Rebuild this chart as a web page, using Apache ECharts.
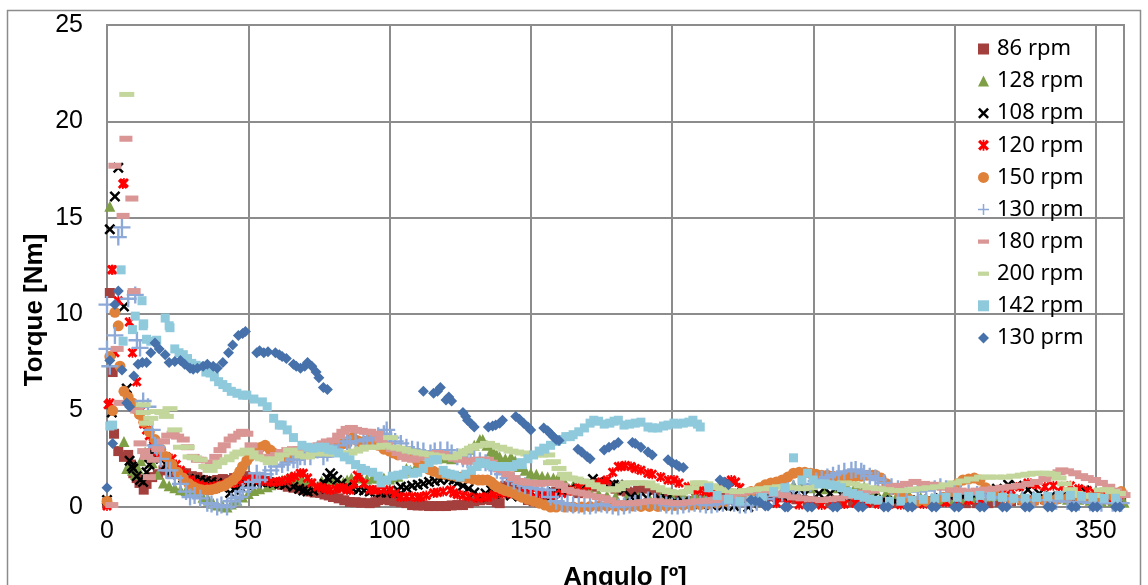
<!DOCTYPE html>
<html>
<head>
<meta charset="utf-8">
<script src="https://cdn.jsdelivr.net/npm/echarts@6/dist/echarts.min.js"></script>
<style>
  html, body { margin: 0; padding: 0; background: #ffffff; }
  #chart { width: 1148px; height: 585px; }
</style>
</head>
<body>
<div id="chart"></div>
<script>
// Torque vs crank angle, one scatter series per speed.
const seriesNames = ['86 rpm', '128 rpm', '108 rpm', '120 rpm', '150 rpm', '130 rpm', '180 rpm', '200 rpm', '142 rpm', '130 prm'];

// [angle (deg), torque (Nm)]
const s86 = [[0,0.2],[1,11.1],[2,7.0],[2.5,3.8],[4,2.9],[6,2.6],[7.5,2.7],[8.5,2.2],[9.3,1.75],[10.5,1.5],[11.5,1.25],[12.4,1.4],[13,0.9],[14,1.2],[16,1.55],[18,1.7],[20,1.9],[21.5,2.1],[23,1.8],[25,1.75],[26.6,1.75],[28,1.75],[30,1.6],[32,1.55],[34,1.4],[35.5,1.3],[37,1.35],[39,1.4],[41,1.45],[43.6,1.4],[45,1.5],[47,1.55],[49,1.6],[50.7,1.55],[52,1.5],[54,1.4],[56,1.35],[58,1.25],[60,1.2],[62,1.15],[64,1.05],[66,1.0],[68,0.95],[70,0.88],[72,0.8],[73.5,0.75],[75.5,0.73],[77,0.65],[78.5,0.6],[80,0.52],[82,0.45],[84,0.35],[86,0.26],[88,0.25],[90,0.22],[93,0.2],[95,0.25],[96,0.36],[98,0.4],[100,0.35],[102,0.3],[104,0.25],[106,0.2],[108,0.1],[110,0.08],[112,0.08],[114,0.05],[116,0.05],[118,0.05],[120,0.05],[122,0.08],[124,0.1],[126,0.1],[128,0.2],[130,0.3],[132,0.35],[134,0.4],[136,0.36],[138,0.25],[139,0.2],[141,1.1],[143,1.25],[144.5,1.1],[146,1.2],[147.5,0.8],[149,0.36],[151,0.3],[153,0.25],[155,0.3],[157,0.5],[159,0.8],[160.6,1.05],[162,0.95],[164,0.85],[166.7,0.72],[168,0.8],[170,0.9],[172.3,1.05],[174,1.15],[176,1.25],[178,1.1],[180,0.95],[182,0.85],[184,0.8],[186,0.75],[188,0.85],[190,0.95],[191.5,1.05],[193,0.9],[195,0.72],[197,0.6],[199,0.5],[201,0.4],[203,0.36],[205,0.3],[207,0.3],[209,0.35],[211,0.4],[213,0.45],[215,0.5],[217,0.6],[219,0.68],[220,0.72],[222,0.52],[225,0.5],[228,0.6],[232,0.7],[236,0.55],[240,0.5],[244,0.4],[248,0.3],[252,0.25],[256,0.2],[260,0.2],[264,0.25],[268,0.3],[272,0.3],[276,0.25],[280,0.2],[284,0.2],[288,0.25],[292,0.3],[296,0.3],[300,0.25],[304,0.2],[308,0.2],[312,0.2],[316,0.25],[320,0.3],[324,0.35],[328,0.35],[332,0.4],[336,0.45],[340,0.5],[344,0.5],[348,0.45],[352,0.4],[356,0.35],[359,0.3]];

const s128 = [[1,15.6],[6,3.4],[7,2.0],[8,2.2],[9,1.9],[10,1.7],[11,2.0],[12,2.4],[13.5,2.85],[14.5,2.6],[16,2.3],[18,1.7],[20,1.25],[22,1.1],[24,1.0],[26,0.9],[28,0.85],[30,0.8],[32,0.7],[34,0.5],[36,0.35],[37.6,0.2],[39,0.1],[41,0.05],[42.5,0.0],[44,0.15],[46,0.35],[48,0.52],[50,0.7],[52,0.85],[54,0.95],[56.7,1.05],[58,1.15],[60,1.3],[62,1.4],[64,1.5],[65,1.55],[67,1.5],[69,1.45],[71,1.4],[73,1.2],[74.5,1.05],[76,1.35],[78,1.4],[80,1.35],[82,1.3],[83.7,1.3],[85,1.4],[86.5,1.5],[88.6,1.55],[90,1.5],[92,1.45],[94,1.5],[96,1.5],[98,1.5],[100,1.45],[101.5,1.55],[103,1.6],[105,1.8],[106,2.0],[107.4,1.9],[109,2.0],[111,2.2],[113.5,2.45],[115,2.5],[117,2.55],[119,2.55],[120.5,2.6],[122,2.5],[124,2.6],[126,2.8],[128,3.0],[130,3.2],[132,3.5],[133,3.5],[134.5,3.2],[136,2.9],[137,2.8],[138,2.7],[139,2.6],[141,2.5],[143,2.6],[144.5,2.4],[146,2.1],[148,1.9],[150,1.75],[152,1.7],[154,1.6],[156,1.55],[158,1.5],[159.6,1.5],[162,1.3],[165,1.1],[168,0.9],[171,0.8],[174,0.7],[177,0.6],[180,0.55],[184,0.5],[188,0.5],[192,0.45],[196,0.5],[200,0.55],[204,0.6],[208,0.65],[212,0.6],[216,0.55],[220,0.6],[224,0.7],[228,0.8],[232,0.9],[236,1.0],[240,1.1],[243,1.15],[246,1.1],[250,1.0],[254,0.95],[258,1.0],[262,1.05],[265,1.1],[268,1.05],[272,0.9],[276,0.8],[280,0.7],[284,0.6],[288,0.5],[292,0.45],[296,0.4],[300,0.4],[304,0.45],[308,0.5],[312,0.55],[316,0.6],[320,0.6],[324,0.6],[328,0.55],[332,0.5],[336,0.45],[340,0.4],[344,0.4],[348,0.35],[352,0.3],[356,0.3],[360,0.25]];

const s108 = [[0,0.36],[1,14.4],[1.7,4.9],[2.8,16.1],[4,17.6],[6,10.4],[7,6.15],[8,2.4],[8.8,2.1],[9.3,2.0],[10.5,1.6],[11.7,1.4],[12.8,1.3],[14,1.8],[15,2.2],[16,2.8],[16.4,3.4],[17.5,3.1],[19,2.5],[21,2.2],[23,1.9],[25,1.7],[27,1.5],[29,1.45],[31,1.4],[33,1.4],[35,1.35],[37,1.3],[39,1.25],[41,1.0],[43.6,0.72],[45,0.9],[47,1.05],[49.6,1.15],[51,1.2],[53,1.25],[55,1.3],[57,1.3],[59,1.25],[61,1.2],[63,1.15],[66,1.05],[68,0.95],[69.5,0.85],[71,0.8],[73,0.85],[75,0.95],[77,1.2],[78,1.5],[79,1.75],[80,1.6],[81.5,1.4],[83,1.2],[85,1.05],[87,0.95],[89,0.9],[91,0.85],[93,0.8],[95,0.8],[97,0.75],[99,0.75],[101.5,0.72],[103,0.85],[104,1.05],[106,1.0],[108,1.1],[110,1.15],[112,1.2],[114,1.3],[116,1.35],[118,1.4],[119,1.55],[121,1.45],[122.7,1.4],[124,1.25],[126,1.1],[128,0.95],[130,0.75],[132,0.52],[134,0.7],[136,0.88],[138,0.8],[140,0.7],[143,0.6],[146,0.55],[149,0.5],[152,0.5],[155,0.6],[158,0.75],[161,0.85],[164,0.95],[167,1.05],[170,1.2],[172,1.45],[174,1.3],[176,1.2],[179.4,1.15],[181,1.15],[183,0.9],[185.5,0.52],[188,0.5],[191,0.48],[195.4,0.47],[198,0.4],[201,0.3],[204,0.25],[206.7,0.2],[210,0.15],[214,0.1],[218,0.08],[222,0.05],[227,0.0],[231,0.2],[235,0.45],[239,0.55],[243,0.6],[247,0.65],[252,0.7],[256,0.7],[260,0.65],[264,0.6],[267,0.55],[271,0.45],[275,0.35],[279,0.3],[283,0.3],[287,0.35],[291,0.4],[295,0.45],[299,0.5],[303,0.55],[307,0.6],[311,0.75],[315,0.95],[319,1.15],[322,1.1],[326,0.9],[330,0.7],[334,0.55],[338,0.5],[342,0.45],[346,0.85],[350,0.5],[354,0.45],[358,0.4]];

const s120 = [[0,0.05],[0.4,5.3],[1,5.4],[1.7,12.3],[2,12.3],[2.8,8.0],[4,10.7],[5.6,16.75],[6,16.8],[7.9,9.6],[9,8.0],[10.5,6.5],[12,5.0],[13,4.3],[14,4.0],[15,3.7],[16.5,3.2],[17.6,2.85],[19,2.75],[21,2.6],[23,2.5],[24.5,2.2],[26,1.9],[27.5,1.7],[29.4,1.4],[31,1.25],[32.5,1.15],[34,1.05],[35.5,1.05],[37.6,1.05],[39,1.1],[41,1.15],[43,1.2],[45,1.25],[47,1.35],[49,1.4],[51.8,1.5],[54,1.4],[56,1.35],[58,1.3],[60,1.3],[62,1.35],[64,1.4],[65,1.5],[66.5,1.6],[68.4,1.75],[69.5,1.75],[71,1.5],[72.5,1.25],[74.5,1.05],[76,1.0],[77.5,0.95],[79,0.88],[81,0.95],[82.5,1.0],[83.7,1.0],[85,0.9],[86,0.88],[87.5,1.2],[88.6,1.65],[89.5,1.6],[91,1.2],[93,0.9],[94.3,0.88],[96,0.9],[98,0.9],[100,0.85],[102,0.7],[104,0.52],[106,0.55],[108,0.55],[110,0.5],[111,0.52],[113,0.6],[115.6,0.72],[117,0.75],[119,0.8],[121.6,0.88],[122.7,0.72],[124,0.65],[126,0.6],[128,0.55],[131,0.47],[133,0.5],[134.8,0.52],[137,0.65],[139,0.72],[141,0.7],[143,0.7],[145,0.7],[147,0.72],[150,0.72],[152.5,0.72],[155,0.65],[158,0.6],[161,0.7],[164,0.85],[167,1.0],[170,1.1],[173,1.2],[175,1.3],[177,1.4],[179,1.8],[181,2.1],[182,2.1],[183.5,2.15],[185.5,2.1],[187,2.0],[189,1.9],[191.5,1.75],[193,1.7],[196,1.55],[198.6,1.4],[200.7,1.4],[202.5,1.25],[205.7,1.05],[208,0.88],[210,0.88],[212,0.8],[214,0.75],[216,0.8],[218,1.0],[220,1.3],[221,1.4],[222.5,1.3],[224,1.0],[226,0.7],[228,0.5],[230,0.35],[233,0.25],[237,0.2],[241,0.15],[245,0.12],[249,0.1],[253,0.1],[257,0.12],[261,0.15],[265,0.2],[269,0.2],[273,0.15],[277,0.15],[281,0.12],[285,0.12],[289,0.15],[293,0.2],[297,0.25],[301,0.3],[305,0.35],[309,0.4],[313,0.55],[317,0.7],[320,0.9],[323,1.05],[326,1.25],[329,1.15],[332,1.05],[335,1.1],[338,1.05],[341,1.1],[344,0.95],[347,0.85],[349.6,0.72],[352,0.6],[355,0.4],[358,0.3]];

const s150 = [[0,0.3],[1,7.8],[2,5.0],[2.8,10.1],[4,9.4],[4.6,7.3],[6,6.0],[7.5,5.7],[9,5.4],[10,5.1],[11.5,4.8],[13,4.4],[15,3.9],[17,3.5],[19,3.0],[21,2.6],[23,2.2],[25,1.8],[27,1.5],[29,1.2],[30.5,1.05],[32,0.95],[33.5,0.9],[35.5,0.88],[37,0.9],[38.5,0.95],[40,1.05],[41.5,1.1],[43,1.25],[44.7,1.4],[46,1.6],[47,1.85],[48,2.1],[49.5,2.4],[50.5,2.6],[51.8,2.8],[53,2.95],[54.5,3.1],[56,3.2],[57.8,2.95],[59,2.8],[61,2.7],[62.4,2.6],[64,2.6],[65,2.6],[67,2.65],[69,2.7],[71,2.75],[73,2.8],[75,2.9],[77,3.0],[79,3.1],[81,3.2],[83,3.25],[85,3.3],[87,3.6],[88.5,3.45],[89.7,3.37],[91,3.4],[92.5,3.45],[94.3,3.45],[96,3.2],[98,3.0],[100,2.9],[101.5,2.8],[103,2.7],[104.5,2.75],[106,2.8],[108,2.6],[110,2.35],[112,2.1],[114,1.95],[115.6,1.85],[117.5,1.75],[119.5,1.7],[121.6,1.65],[123.5,1.6],[125.5,1.55],[127.5,1.5],[129.5,1.45],[131.5,1.4],[133,1.4],[134.7,1.4],[136,1.3],[137,1.15],[138,1.05],[139.5,0.95],[141,0.85],[142.5,0.8],[144,0.72],[145.5,0.6],[147,0.5],[149,0.4],[151,0.3],[153,0.2],[155,0.1],[157,0.0],[159,0.0],[162,0.0],[165,0.0],[168,0.0],[171,0.02],[174,0.05],[177,0.05],[180,0.05],[183,0.05],[186,0.05],[189,0.03],[192,0.03],[195,0.03],[198,0.05],[201,0.08],[204,0.1],[207,0.1],[210,0.12],[213,0.15],[216,0.2],[219,0.3],[222,0.45],[225,0.6],[228,0.8],[231,1.0],[233,1.15],[235,1.25],[237,1.3],[239,1.4],[241,1.55],[243,1.75],[245,1.8],[247,1.8],[249,1.75],[251,1.7],[253,1.65],[255,1.65],[257,1.6],[259,1.55],[261,1.55],[263,1.55],[265,1.6],[267,1.6],[269,1.65],[271,1.65],[272,1.65],[274,1.5],[276,1.2],[278,0.9],[281,0.6],[284,0.4],[287,0.3],[290,0.3],[293,0.35],[296,0.5],[299,0.8],[301,1.2],[303,1.4],[305,1.45],[307,1.5],[309,1.4],[311,1.0],[314,0.7],[317,0.5],[320,0.4],[324,0.35],[328,0.3],[332,0.35],[336,0.4],[340,0.45],[344,0.5],[348,0.5],[352,0.45],[356,0.6],[359,0.8]];

const s130 = [[0,8.2],[0,10.5],[1,7.3],[2.8,8.9],[4,14.0],[5.3,14.5],[7.5,10.8],[10,11.0],[10.6,8.65],[11.7,8.25],[12.8,5.5],[14.5,5.2],[16,4.0],[17,3.2],[17.6,3.1],[19,2.5],[21,1.9],[22.3,1.9],[24,1.5],[26,1.2],[28,0.8],[29.4,0.52],[31,0.6],[33,0.45],[35.5,0.2],[37,0.15],[39,0.0],[40.5,0.1],[42.5,0.0],[44,0.3],[45.5,0.45],[47,0.52],[48,0.8],[50,1.0],[51.5,1.3],[53,1.75],[54,1.4],[56,1.7],[58,1.9],[60,2.1],[62,2.2],[64,2.3],[66,2.45],[67.4,2.45],[68.4,2.6],[70,2.6],[72,2.6],[74.5,2.95],[76.6,2.6],[78,2.8],[80,3.0],[82,3.2],[83.7,3.6],[85,3.4],[86,3.3],[88,3.4],[90.8,3.45],[92,3.5],[94,3.6],[96,3.7],[98,3.8],[99,4.0],[100.5,3.6],[102,3.4],[104,3.3],[106,3.1],[108,3.0],[110,2.95],[112,2.9],[114.5,2.8],[116,2.9],[118,2.95],[120.5,2.95],[122,2.8],[124,2.6],[126,2.5],[127.6,2.45],[128.7,2.45],[130,2.5],[132,2.4],[134,2.3],[136,2.1],[138,1.9],[140,1.7],[142,1.5],[144,1.35],[146,1.2],[148,1.1],[150,1.0],[152,0.95],[154,0.9],[156,0.88],[157,0.52],[159,0.3],[161,0.2],[163,0.15],[165,0.1],[167,0.1],[169,0.05],[171,0.05],[173,0.1],[175,0.15],[177,0.1],[179,0.05],[181,0.0],[183,0.05],[185,0.1],[187,0.2],[189,0.3],[191.5,0.36],[194,0.3],[196,0.2],[198,0.1],[200,0.05],[202,0.05],[204,0.1],[206,0.15],[208,0.2],[210,0.15],[212,0.1],[214,0.1],[216,0.15],[218,0.2],[220,0.25],[222,0.2],[224,0.1],[226,0.1],[228,0.15],[230,0.25],[233,0.4],[236,0.55],[239,0.72],[241,0.85],[243,0.95],[245,1.0],[247,1.05],[249,1.2],[251,1.35],[253,1.45],[255,1.55],[257,1.65],[259,1.75],[261,1.85],[263.5,1.9],[265,1.95],[267,1.85],[268,1.75],[270,1.6],[272,1.5],[273,1.4],[275,1.25],[277.7,1.05],[280,0.95],[283,0.9],[287,0.8],[290,0.85],[293,0.95],[295,1.05],[297,0.95],[300,0.85],[302,0.8],[305,0.72],[308,0.65],[311,0.6],[314,0.52],[317,0.45],[320,0.4],[324,0.38],[328,0.36],[332,0.36],[336,0.3],[340,0.28],[344,0.25],[348,0.22],[352,0.2],[356,0.2],[359,0.2]];

const s180 = [[1.7,0.1],[2.8,17.7],[3.6,8.2],[4.6,5.4],[5.7,15.1],[6.7,19.1],[8.8,16.0],[9.6,11.2],[10.5,5.0],[11.7,3.3],[13,2.9],[14,2.6],[15,1.55],[16.4,2.45],[18,3.0],[20,3.4],[21.5,3.7],[23.4,3.8],[25,3.65],[27,3.5],[28.5,3.1],[30.5,2.6],[32,2.45],[33,2.45],[35.5,2.1],[37,2.3],[38.5,2.6],[40,2.95],[41.5,3.2],[43.6,3.5],[45,3.65],[47,3.8],[48,3.9],[49.5,3.8],[51,3.2],[53,2.8],[55,2.6],[57.8,2.6],[60,2.7],[62,2.85],[64,2.95],[66,3.0],[68,3.0],[70,3.05],[73,3.1],[75,3.2],[76.6,3.3],[78,3.4],[80,3.45],[82,3.7],[83.5,3.9],[85,4.05],[86.5,4.1],[88,4.0],[90,3.95],[91.5,3.9],[93,3.9],[95.7,3.8],[97,3.5],[99,3.2],[101,3.0],[103,2.8],[105,2.6],[106.5,2.5],[108.5,2.45],[110,2.55],[112,2.6],[114,2.7],[115.5,2.75],[117,2.8],[119,2.75],[121,2.6],[123,2.5],[125,2.45],[127.6,2.35],[129,2.4],[131,2.45],[133,2.45],[134.7,2.45],[136,2.3],[137.5,2.1],[139,1.95],[140.4,1.9],[142,1.7],[144,1.5],[146,1.35],[147.5,1.3],[149,1.25],[151,1.25],[153,1.2],[155,1.25],[157,1.25],[158,1.25],[159.6,1.25],[161,1.1],[163,0.88],[165,0.8],[167,0.75],[169,0.7],[171,0.6],[174,0.52],[176,0.45],[178,0.35],[181,0.2],[184,0.2],[186.5,0.2],[189,0.25],[192,0.3],[195,0.3],[198,0.25],[201,0.2],[203,0.2],[206,0.25],[209,0.3],[212,0.32],[215,0.36],[218,0.45],[221,0.6],[224.5,0.72],[227,0.8],[229,0.85],[231.6,0.88],[234,0.8],[237,0.7],[240,0.6],[243,0.5],[246,0.45],[249,0.4],[253,0.36],[256,0.4],[259,0.45],[262,0.55],[265,0.65],[268,0.75],[271,0.85],[274,0.95],[277.7,1.05],[280,1.1],[283,1.2],[286,1.3],[289,1.2],[291,1.15],[293,1.15],[296,1.0],[299,0.9],[302,0.85],[305,0.8],[308,0.85],[311,0.9],[314,0.95],[317,1.0],[320,1.05],[323,1.1],[326,1.2],[329,1.3],[332,1.45],[335,1.6],[337,1.8],[338,1.9],[340,1.85],[342.6,1.75],[345,1.6],[347,1.5],[349.6,1.4],[352,1.25],[354.6,1.05],[357,0.85],[359,0.7],[360,0.62]];

const s200 = [[7,21.4],[12.8,5.3],[12.8,4.9],[14,4.35],[15.5,4.6],[17.6,4.95],[19.5,4.9],[21,4.7],[22.3,5.1],[24,4.0],[26,3.1],[28.4,3.1],[29.4,2.6],[31,2.55],[33,2.45],[35,2.1],[36.5,1.9],[38,2.1],[40,2.3],[42.5,2.45],[44,2.6],[46,2.75],[47,2.85],[49.6,2.95],[51,2.8],[53,2.6],[55,2.5],[56.7,2.45],[57.8,2.3],[60,2.5],[62,2.7],[65,2.95],[67,2.8],[69,2.65],[71,2.6],[73,2.75],[74.5,2.85],[76,2.8],[78,2.75],[80,2.75],[82,2.8],[83.7,2.8],[86,2.8],[88,2.9],[90,3.0],[92,3.1],[94,3.1],[96,3.1],[98,3.2],[100.4,3.6],[101.5,3.1],[103,3.05],[105,3.0],[107,2.9],[109,2.85],[111,2.8],[113,2.75],[115,2.7],[117,2.65],[119,2.6],[121.6,2.55],[123,2.6],[125,2.75],[127,2.9],[129,3.05],[130.5,3.15],[132,3.2],[134.7,3.3],[136.5,3.2],[139,3.1],[141,3.0],[143,2.9],[145,2.85],[147,2.8],[149,2.75],[151,2.7],[153.5,2.7],[156,2.7],[157,2.3],[158,2.35],[160,2.0],[162,1.7],[163,1.5],[164,1.5],[166,1.45],[168,1.35],[170,1.3],[172,1.15],[174,1.05],[176,0.95],[177.5,0.9],[179.4,0.88],[181,0.95],[182.5,1.1],[184,1.25],[186,1.25],[188,1.25],[189,1.25],[191.5,1.25],[193,1.1],[195,1.0],[197,0.88],[199,0.8],[201,0.75],[203,0.72],[205,0.8],[207,1.0],[209,1.25],[210,1.25],[212,1.2],[214,1.1],[216,1.0],[218,0.9],[220,0.85],[223,0.8],[226,0.85],[229,0.9],[232,0.95],[235,1.0],[238,1.05],[240,1.05],[243,1.0],[246,0.95],[249,1.0],[252,1.1],[255,1.15],[258,1.2],[261,1.25],[264,1.2],[267,1.1],[270,1.0],[273,0.95],[276,0.9],[279,0.85],[282,0.85],[285,0.9],[288,0.95],[291,1.0],[294,1.05],[297,1.15],[300,1.25],[303,1.35],[306,1.45],[309.6,1.55],[312,1.55],[315,1.55],[318,1.55],[321,1.6],[324,1.65],[326,1.7],[328.4,1.75],[331,1.75],[333,1.75],[335,1.7],[337,1.5],[339,1.2],[341,0.9],[343,0.7],[345,0.6],[347,0.55],[349,0.6],[352,0.88],[354,0.9],[356,0.8],[358,0.7]];

const s142 = [[1,4.2],[2,4.25],[5,12.3],[5.7,8.6],[9,9.2],[10,9.9],[12.4,10.7],[12.8,9.4],[13,9.5],[14,8.7],[15.5,8.6],[17.6,8.65],[20.6,9.8],[22,9.4],[22.3,9.3],[24,8.2],[25.5,8.0],[27,7.9],[28.5,7.7],[30,7.45],[31.5,7.35],[33.6,7.3],[35,7.0],[36.5,6.95],[38,6.75],[39.5,6.5],[41,6.35],[42.5,6.2],[44,6.0],[46,5.9],[48,5.8],[49.5,5.8],[52,5.6],[55,5.45],[56.7,5.2],[59,4.6],[61,4.25],[62,4.25],[63.8,4.0],[66,3.6],[69,3.2],[71,3.1],[73,3.05],[75,3.1],[77,3.1],[78.5,3.0],[80,2.95],[82,2.8],[84,2.6],[86,2.45],[88,2.2],[90,2.0],[91.5,1.9],[94,1.8],[96,1.6],[97,1.25],[99,1.4],[101,1.6],[103,1.65],[105,1.7],[106,1.9],[108.5,1.75],[110,1.8],[112,2.0],[114,2.3],[115.6,2.45],[117,2.45],[119,1.9],[120,1.75],[121.5,1.7],[123,1.65],[125,1.55],[127,1.7],[129,1.9],[131,2.1],[132,2.3],[134,2.25],[136,2.15],[138,2.1],[139,2.1],[141,2.1],[143.6,2.1],[145,2.2],[146.5,2.3],[147,2.2],[149,2.5],[151,2.7],[153,2.9],[154.6,3.05],[155,3.0],[157,3.2],[159,3.4],[161,3.5],[162.4,3.65],[164,3.65],[165,3.75],[167,3.9],[169,4.1],[171,4.35],[172.3,4.5],[174,4.45],[176,4.3],[178,4.35],[179.5,4.45],[181,4.5],[183,4.25],[185,4.3],[187,4.35],[189,4.4],[191.5,4.15],[193,4.1],[195,4.1],[197,4.2],[198.6,4.25],[200.7,4.35],[202,4.3],[204,4.35],[206,4.4],[207.4,4.5],[209,4.3],[210,4.15],[213,1.0],[216,0.6],[220,0.4],[224,0.3],[228,0.35],[232,0.5],[236,0.8],[240,1.0],[243,2.55],[246,1.4],[248,1.75],[250,1.4],[252,1.2],[254,1.2],[256,1.15],[258,1.1],[260,1.0],[262,0.8],[264,0.7],[266,0.6],[268,0.5],[270,0.4],[273,0.35],[277,0.3],[281,0.3],[285,0.35],[289,0.4],[293,0.45],[297,0.5],[301,0.5],[305,0.55],[309,0.6],[313,0.55],[317,0.5],[321,0.45],[325,0.45],[329,0.5],[333,0.55],[337,0.6],[341,0.6],[345,0.55],[349,0.5],[353,0.45],[357,0.45]];

const s130b = [[0,1.0],[1,7.6],[2,3.3],[2.8,10.5],[4,11.2],[5.3,7.1],[7,5.4],[8,5.2],[9.5,6.8],[11,7.4],[12.5,7.5],[14,7.5],[15.5,8.0],[17,8.5],[18.5,8.2],[20.6,7.9],[22,7.5],[24,7.55],[26,7.6],[27.5,7.4],[29.4,7.2],[30.5,7.15],[32,7.2],[34,7.3],[35.5,7.4],[37.6,7.3],[39,7.2],[41,7.5],[43,8.0],[44.5,8.4],[46.5,8.9],[48,9.0],[49,9.1],[53,8.0],[54,8.1],[55.5,8.0],[57,8.05],[59.6,8.0],[61,7.9],[62,7.8],[63.5,7.7],[66,7.4],[67,7.3],[68.5,7.2],[70,7.3],[71,7.5],[72.5,7.3],[74,7.0],[75,6.7],[76.6,6.2],[78,6.1],[112,6.0],[115.6,5.9],[117,6.0],[118,6.2],[120,5.55],[121,5.7],[122,5.5],[126,4.9],[127,4.7],[127.6,4.5],[129,4.3],[130,4.15],[135,4.15],[136.5,4.2],[137.6,4.25],[139,4.35],[140,4.5],[144.7,4.7],[146,4.55],[147.5,4.35],[149,4.15],[150,4.0],[154.6,4.1],[156,3.95],[157,3.8],[158,3.65],[159,3.5],[160,3.45],[166.7,3.0],[168,2.85],[170,2.6],[171,2.5],[176,2.95],[177.7,3.1],[179.5,3.2],[181,3.35],[186,3.35],[187,3.3],[189,3.1],[191.5,2.85],[193,2.7],[198.6,2.45],[200,2.3],[201.5,2.2],[202.5,2.1],[204,2.05],[217,1.4],[218.5,1.3],[220,1.15],[228,0.36],[229.5,0.3],[231,0.26],[233,0.05],[234,0.05],[240,0.0],[241,0.0],[248,0.0],[249.5,0.0],[257,0.0],[258.5,0.0],[266,0.0],[267.5,0.0],[275,0.0],[276.5,0.0],[283.5,0.0],[285,0.0],[292,0.0],[293.5,0.0],[300,0.0],[301.5,0.0],[309,0.0],[310.5,0.0],[317,0.0],[318.5,0.0],[325,0.0],[326.5,0.0],[333,0.0],[334.5,0.0],[341.5,0.0],[343,0.0],[349,0.0],[350.5,0.0],[357,0.0],[358.5,0.0]];

const seriesData = [s86, s128, s108, s120, s150, s130, s180, s200, s142, s130b];

// Axis ranges and tick spacing
const xMin = 0, xMax = 360, xStep = 50;
const yMin = 0, yMax = 25, yStep = 5;

// Marker shapes
const crossX = 'path://M0,1.6 L1.6,0 L10,8.4 L8.4,10 Z M8.4,0 L10,1.6 L1.6,10 L0,8.4 Z';
const starX = 'path://M0,2 L2,0 L10,8 L8,10 Z M8,0 L10,2 L2,10 L0,8 Z M4.2,0 L5.8,0 L5.8,10 L4.2,10 Z';
const plus = 'path://M6.9,0 L9.1,0 L9.1,6.9 L16,6.9 L16,9.1 L9.1,9.1 L9.1,16 L6.9,16 L6.9,9.1 L0,9.1 L0,6.9 L6.9,6.9 Z';
const dash = 'path://M0,0 L13,0 L13,5 L0,5 Z';

const markers = [
  { color: '#A3403D', symbol: 'rect', size: 10, icon: 'rect' },
  { color: '#7F9F46', symbol: 'triangle', size: 11, icon: 'triangle' },
  { color: '#000000', symbol: crossX, size: 11, icon: crossX },
  { color: '#FF0000', symbol: starX, size: 10, icon: starX },
  { color: '#E0813A', symbol: 'circle', size: 11, icon: 'circle' },
  { color: '#8DA9D8', symbol: plus, size: 17, icon: plus },
  { color: '#D99694', symbol: 'rect', size: [13, 6], icon: dash },
  { color: '#C3D69B', symbol: 'rect', size: [15, 5], icon: dash },
  { color: '#8FC9DC', symbol: 'rect', size: 9, icon: 'rect' },
  { color: '#4671AA', symbol: 'diamond', size: 11, icon: 'diamond' }
];

const gridColor = '#8c8c8c';
const tickFont = { fontFamily: 'Liberation Sans, Arial, sans-serif', fontSize: 25, color: '#000' };

const chart = echarts.init(document.getElementById('chart'), null, { renderer: 'canvas' });

chart.setOption({
  animation: false,
  backgroundColor: '#ffffff',
  grid: {
    left: 107, right: 24, top: 25, bottom: 78,
    show: true, borderColor: gridColor, borderWidth: 2, backgroundColor: 'transparent'
  },
  xAxis: {
    type: 'value', min: xMin, max: xMax, interval: xStep,
    axisLine: { show: true, lineStyle: { color: gridColor, width: 2 } },
    axisTick: { show: false },
    splitLine: { show: true, lineStyle: { color: gridColor, width: 2 } },
    axisLabel: Object.assign({ margin: 12, formatter: v => (v % xStep === 0 ? String(v) : '') }, tickFont)
  },
  yAxis: {
    type: 'value', min: yMin, max: yMax, interval: yStep,
    axisLine: { show: true, lineStyle: { color: gridColor, width: 2 } },
    axisTick: { show: false },
    splitLine: { show: true, lineStyle: { color: gridColor, width: 2 } },
    axisLabel: Object.assign({ margin: 24 }, tickFont)
  },
  legend: {
    orient: 'vertical',
    left: 978, top: 38,
    padding: 0,
    itemWidth: 11, itemHeight: 11,
    itemGap: 10.1,
    selectedMode: false,
    textStyle: { fontFamily: 'Noto Sans, Liberation Sans, sans-serif', fontSize: 22, color: '#000', lineHeight: 22, padding: [0, 0, 0, 3] },
    data: seriesNames.map((n, i) => ({ name: n, icon: markers[i].icon, itemStyle: { color: markers[i].color } }))
  },
  graphic: [
    {
      type: 'rect', silent: true, z: -10,
      shape: { x: 7.5, y: 10.5, width: 1133, height: 700 },
      style: { fill: 'none', stroke: gridColor, lineWidth: 1.5 }
    },
    {
      type: 'text', silent: true,
      x: 35, y: 310, rotation: Math.PI / 2,
      style: { text: 'Torque [Nm]', fontFamily: 'Liberation Sans, Arial, sans-serif', fontWeight: 'bold', fontSize: 26, fill: '#000', align: 'center', verticalAlign: 'middle' }
    },
    {
      type: 'text', silent: true,
      x: 625, y: 578,
      style: { text: 'Angulo [º]', fontFamily: 'Liberation Sans, Arial, sans-serif', fontWeight: 'bold', fontSize: 26, fill: '#000', align: 'center', verticalAlign: 'middle' }
    }
  ],
  series: seriesData.map((d, i) => ({
    name: seriesNames[i],
    type: 'scatter',
    data: d,
    symbol: markers[i].symbol,
    symbolSize: markers[i].size,
    itemStyle: { color: markers[i].color, opacity: 1 },
    emphasis: { disabled: true },
    clip: false
  }))
});
</script>
</body>
</html>
